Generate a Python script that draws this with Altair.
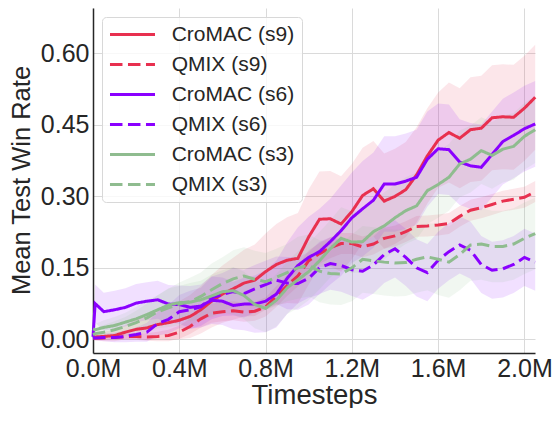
import altair as alt
import pandas as pd

# Timesteps (millions)
steps = [0.0, 0.01, 0.05, 0.10, 0.15, 0.20, 0.25, 0.30, 0.35, 0.40, 0.45, 0.50, 0.55, 0.60,
         0.65, 0.70, 0.75, 0.80, 0.85, 0.90, 0.95, 1.00, 1.05, 1.10, 1.15, 1.20, 1.25, 1.30,
         1.35, 1.40, 1.45, 1.50, 1.55, 1.60, 1.65, 1.70, 1.75, 1.80, 1.85, 1.90, 1.95, 2.00, 2.05]

series_names = ["CroMAC (s9)", "QMIX (s9)", "CroMAC (s6)", "QMIX (s6)", "CroMAC (s3)", "QMIX (s3)"]
series_colors = ["#e8304f", "#e8304f", "#8a00ff", "#8a00ff", "#8fbc8f", "#8fbc8f"]

cromac_s9 = [0.005, 0.005, 0.006, 0.008, 0.015, 0.021, 0.024, 0.031, 0.035, 0.040, 0.048, 0.062, 0.080, 0.095,
             0.106, 0.118, 0.124, 0.142, 0.157, 0.166, 0.170, 0.215, 0.252, 0.253, 0.242, 0.268, 0.302, 0.316,
             0.290, 0.300, 0.314, 0.345, 0.385, 0.418, 0.434, 0.422, 0.440, 0.443, 0.465, 0.467, 0.466, 0.485, 0.508]
qmix_s9 = [0.002, 0.002, 0.003, 0.004, 0.006, 0.006, 0.005, 0.006, 0.008, 0.015, 0.027, 0.043, 0.055, 0.058,
           0.060, 0.057, 0.059, 0.068, 0.090, 0.113, 0.133, 0.165, 0.180, 0.192, 0.201, 0.201, 0.194, 0.200,
           0.212, 0.217, 0.226, 0.237, 0.238, 0.240, 0.243, 0.258, 0.271, 0.276, 0.283, 0.290, 0.294, 0.298, 0.310]
cromac_s6 = [0.005, 0.075, 0.058, 0.062, 0.067, 0.076, 0.080, 0.083, 0.074, 0.073, 0.067, 0.070, 0.082, 0.080,
             0.071, 0.074, 0.074, 0.080, 0.095, 0.128, 0.155, 0.172, 0.184, 0.205, 0.228, 0.255, 0.274, 0.292,
             0.326, 0.326, 0.332, 0.340, 0.378, 0.400, 0.398, 0.372, 0.364, 0.361, 0.388, 0.415, 0.428, 0.442, 0.452]
qmix_s6 = [0.002, 0.003, 0.004, 0.004, 0.006, 0.010, 0.015, 0.033, 0.042, 0.058, 0.062, 0.068, 0.087, 0.094,
           0.100, 0.096, 0.106, 0.115, 0.124, 0.118, 0.117, 0.128, 0.150, 0.159, 0.155, 0.146, 0.143, 0.156,
           0.178, 0.190, 0.172, 0.150, 0.140, 0.166, 0.184, 0.198, 0.187, 0.157, 0.145, 0.148, 0.157, 0.172, 0.162]
cromac_s3 = [0.022, 0.020, 0.025, 0.029, 0.036, 0.043, 0.052, 0.062, 0.072, 0.077, 0.078, 0.083, 0.091, 0.100,
             0.102, 0.092, 0.073, 0.065, 0.082, 0.108, 0.125, 0.142, 0.165, 0.190, 0.212, 0.204, 0.205, 0.226,
             0.238, 0.255, 0.270, 0.280, 0.312, 0.325, 0.340, 0.368, 0.378, 0.396, 0.386, 0.399, 0.405, 0.426, 0.440]
qmix_s3 = [0.010, 0.012, 0.015, 0.020, 0.027, 0.035, 0.045, 0.058, 0.066, 0.074, 0.079, 0.090, 0.104, 0.117,
           0.127, 0.133, 0.126, 0.121, 0.130, 0.140, 0.150, 0.155, 0.143, 0.138, 0.137, 0.150, 0.168, 0.165,
           0.162, 0.160, 0.161, 0.168, 0.173, 0.168, 0.162, 0.178, 0.198, 0.200, 0.195, 0.195, 0.200, 0.212, 0.222]

# half-widths of the shaded bands
band_cromac_s9 = [0.005, 0.008, 0.010, 0.012, 0.015, 0.020, 0.025, 0.030, 0.035, 0.040, 0.045, 0.050, 0.055, 0.060,
                  0.065, 0.070, 0.075, 0.080, 0.085, 0.090, 0.095, 0.100, 0.100, 0.100, 0.100, 0.100, 0.100, 0.100,
                  0.100, 0.100, 0.100, 0.100, 0.100, 0.100, 0.105, 0.105, 0.110, 0.110, 0.110, 0.110, 0.110, 0.110, 0.110]
band_qmix_s9 = [0.002, 0.003, 0.004, 0.005, 0.006, 0.007, 0.008, 0.010, 0.012, 0.014, 0.016, 0.018, 0.020, 0.020,
                0.020, 0.020, 0.020, 0.020, 0.022, 0.022, 0.022, 0.022, 0.022, 0.022, 0.022, 0.022, 0.022, 0.022,
                0.022, 0.022, 0.022, 0.022, 0.022, 0.022, 0.022, 0.022, 0.022, 0.022, 0.022, 0.022, 0.022, 0.022, 0.022]
band_cromac_s6 = [0.005, 0.040, 0.040, 0.040, 0.040, 0.040, 0.040, 0.040, 0.040, 0.040, 0.045, 0.045, 0.050, 0.050,
                  0.050, 0.055, 0.060, 0.065, 0.070, 0.075, 0.080, 0.085, 0.090, 0.090, 0.095, 0.095, 0.100, 0.100,
                  0.100, 0.100, 0.100, 0.100, 0.100, 0.095, 0.095, 0.090, 0.090, 0.090, 0.090, 0.090, 0.090, 0.090, 0.090]
band_qmix_s6 = [0.003, 0.005, 0.008, 0.010, 0.012, 0.015, 0.020, 0.025, 0.030, 0.035, 0.040, 0.040, 0.045, 0.045,
                0.050, 0.050, 0.050, 0.050, 0.050, 0.055, 0.055, 0.055, 0.055, 0.055, 0.055, 0.055, 0.060, 0.060,
                0.060, 0.060, 0.060, 0.060, 0.060, 0.060, 0.060, 0.060, 0.060, 0.060, 0.060, 0.060, 0.060, 0.060, 0.060]
band_cromac_s3 = [0.010, 0.012, 0.015, 0.018, 0.020, 0.025, 0.030, 0.030, 0.035, 0.035, 0.040, 0.040, 0.045, 0.045,
                  0.050, 0.050, 0.050, 0.050, 0.055, 0.055, 0.060, 0.060, 0.060, 0.060, 0.065, 0.065, 0.065, 0.065,
                  0.070, 0.070, 0.070, 0.070, 0.070, 0.070, 0.070, 0.070, 0.070, 0.070, 0.070, 0.070, 0.070, 0.070, 0.070]
band_qmix_s3 = [0.010, 0.012, 0.015, 0.018, 0.020, 0.025, 0.030, 0.035, 0.040, 0.045, 0.050, 0.050, 0.055, 0.055,
                0.060, 0.060, 0.060, 0.060, 0.060, 0.060, 0.065, 0.065, 0.065, 0.065, 0.065, 0.070, 0.070, 0.070,
                0.070, 0.070, 0.070, 0.070, 0.070, 0.075, 0.075, 0.075, 0.075, 0.075, 0.075, 0.075, 0.075, 0.075, 0.075]

x_ticks = [0.0, 0.4, 0.8, 1.2, 1.6, 2.0]
y_ticks = [0.0, 0.15, 0.30, 0.45, 0.60]

means = [cromac_s9, qmix_s9, cromac_s6, qmix_s6, cromac_s3, qmix_s3]
bands = [band_cromac_s9, band_qmix_s9, band_cromac_s6, band_qmix_s6, band_cromac_s3, band_qmix_s3]
band_names = [n + " band" for n in series_names]

rows = []
for k, name in enumerate(series_names):
    assert len(means[k]) == len(steps) and len(bands[k]) == len(steps), name
    for t, m, b in zip(steps, means[k], bands[k]):
        rows.append({"t": t, "mean": m, "lo": m - b, "hi": m + b,
                     "series": name, "band": band_names[k]})
df = pd.DataFrame(rows)

FONT = "Liberation Sans"
TXT = "#262626"
DASH = [12.5, 5.5]
SOLID = [1, 0]

x_enc = alt.X("t:Q", scale=alt.Scale(domain=[0, 2.049], nice=False),
              axis=alt.Axis(values=x_ticks, labelExpr="format(datum.value, '.1f') + 'M'",
                            labelFlush=False, labelOverlap=False,
                            title="Timesteps", titleFontSize=27.5, titleY=50,
                            titleBaseline="alphabetic", labelPadding=3))
y_scale = alt.Scale(domain=[-0.0287, 0.6953], nice=False, zero=False)

fill_scale = alt.Scale(domain=band_names, range=series_colors)
color_scale = alt.Scale(domain=series_names, range=series_colors)
dash_scale = alt.Scale(domain=series_names, range=[SOLID, DASH, SOLID, DASH, SOLID, DASH])

# horizontal line glyph drawn to the right of the entry's symbol slot
legend = alt.Legend(title=None, orient="top-left", offset=9,
                    symbolType="M-1.27,0H4.73", symbolSize=225, symbolStrokeWidth=3,
                    symbolFillColor="transparent",
                    labelFontSize=21, labelFont=FONT, labelColor=TXT,
                    labelOffset=41.7, labelLimit=400, padding=7, rowPadding=8,
                    fillColor="rgba(255,255,255,0.8)", strokeColor="#d8d8d8",
                    cornerRadius=4)

bands_layer = alt.Chart(df).mark_area(fillOpacity=0.12, strokeWidth=0).encode(
    x=x_enc,
    y=alt.Y("lo:Q", scale=y_scale),
    y2="hi:Q",
    fill=alt.Fill("band:N", scale=fill_scale, legend=None),
)

lines_layer = alt.Chart(df).mark_line(strokeWidth=3).encode(
    x=x_enc,
    y=alt.Y("mean:Q", scale=y_scale,
            axis=alt.Axis(values=y_ticks, format=".2f", title="Mean Test Win Rate",
                          titleFontSize=25.5, titleX=-64, titleY=172, titleAngle=270,
                          titleAlign="center", titleBaseline="alphabetic", labelPadding=4)),
    color=alt.Color("series:N", scale=color_scale, sort=series_names, legend=legend),
    strokeDash=alt.StrokeDash("series:N", scale=dash_scale, sort=series_names, legend=legend),
)

chart = alt.layer(bands_layer, lines_layer).properties(
    width=442, height=345,
    autosize=alt.AutoSizeParams(type="none"),
    padding={"left": 85, "top": 0, "right": 17, "bottom": 55},
).configure_view(stroke=None).configure_axis(
    labelFont=FONT, titleFont=FONT, labelFontSize=25, labelColor=TXT, titleColor=TXT,
    titleFontWeight="normal", ticks=False, tickSize=0,
    grid=True, gridColor="#dadada", gridWidth=1,
    domainColor=TXT, domainWidth=1.5,
)

chart.save("out.html", embed_options={"renderer": "svg", "actions": False})
